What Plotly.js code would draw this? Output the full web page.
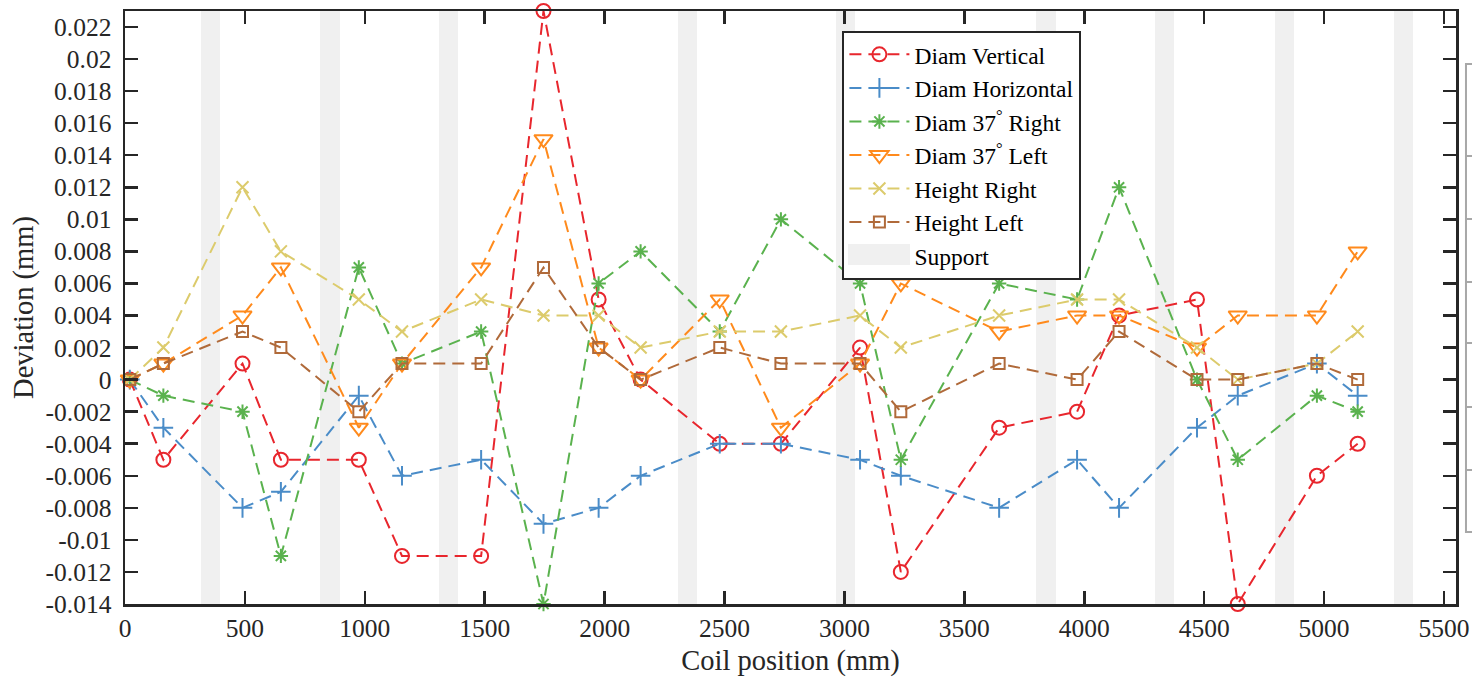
<!DOCTYPE html>
<html><head><meta charset="utf-8">
<script src="https://cdn.plot.ly/plotly-3.0.1.min.js"></script>
<style>html,body{margin:0;padding:0;background:#fff;} #chart{width:1472px;height:678px;}</style>
</head><body><div id="chart"></div>
<script>
// Measurement positions along the coil (mm)
const coilPosition = [20, 160, 490, 650, 975, 1155, 1485, 1745, 1975, 2150, 2480, 2735, 3065, 3235, 3645, 3970, 4145, 4470, 4640, 4970, 5140];

// Deviations (mm)
const diamVertical   = [0, -0.005, 0.001, -0.005, -0.005, -0.011, -0.011, 0.023, 0.005, 0.000, -0.004, -0.004, 0.002, -0.012, -0.003, -0.002, 0.004, 0.005, -0.014, -0.006, -0.004];
const diamHorizontal = [0, -0.003, -0.008, -0.007, -0.001, -0.006, -0.005, -0.009, -0.008, -0.006, -0.004, -0.004, -0.005, -0.006, -0.008, -0.005, -0.008, -0.003, -0.001, 0.001, -0.001];
const diam37Right    = [0, -0.001, -0.002, -0.011, 0.007, 0.001, 0.003, -0.014, 0.006, 0.008, 0.003, 0.010, 0.006, -0.005, 0.006, 0.005, 0.012, 0.000, -0.005, -0.001, -0.002];
const diam37Left     = [0, 0.001, 0.004, 0.007, -0.003, 0.001, 0.007, 0.015, 0.002, 0.000, 0.005, -0.003, 0.001, 0.006, 0.003, 0.004, 0.004, 0.002, 0.004, 0.004, 0.008];
const heightRight    = [0, 0.002, 0.012, 0.008, 0.005, 0.003, 0.005, 0.004, 0.004, 0.002, 0.003, 0.003, 0.004, 0.002, 0.004, 0.005, 0.005, 0.002, 0.000, 0.001, 0.003];
const heightLeft     = [0, 0.001, 0.003, 0.002, -0.002, 0.001, 0.001, 0.007, 0.002, 0.000, 0.002, 0.001, 0.001, -0.002, 0.001, 0.000, 0.003, 0.000, 0.000, 0.001, 0.000];

// Support regions (start position and length, mm)
const supportStart = [315, 815, 1310, 2305, 2965, 3800, 4295, 4795, 5290];
const supportLength = 80;

// Series names
const seriesNames = ['Diam Vertical', 'Diam Horizontal', 'Diam 37<sup>°</sup> Right', 'Diam 37<sup>°</sup> Left', 'Height Right', 'Height Left'];
const supportName = 'Support';

// Axis ticks
const xTickVals = [0, 500, 1000, 1500, 2000, 2500, 3000, 3500, 4000, 4500, 5000, 5500];
const yTickVals = [-0.014, -0.012, -0.01, -0.008, -0.006, -0.004, -0.002, 0, 0.002, 0.004, 0.006, 0.008, 0.01, 0.012, 0.014, 0.016, 0.018, 0.02, 0.022];
const yTickText = ['-0.014', '-0.012', '-0.01', '-0.008', '-0.006', '-0.004', '-0.002', '0', '0.002', '0.004', '0.006', '0.008', '0.01', '0.012', '0.014', '0.016', '0.018', '0.02', '0.022'];

const xRange = [0, 5550];
const yRange = [-0.014, 0.023];

const FONT = '"Liberation Serif", "Times New Roman", serif';
const AX = '#262626';

const styles = [
  {color: '#e8262d', symbol: 'circle-open', size: 14},
  {color: '#4a8cc8', symbol: 'cross-thin-open', size: 14},
  {color: '#5ab24e', symbol: 'asterisk-open', size: 12},
  {color: '#ff8a1c', symbol: 'triangle-down-open', size: 16},
  {color: '#dccb6c', symbol: 'x-thin-open', size: 12},
  {color: '#b06a3a', symbol: 'square-open', size: 11}
];
const seriesData = [diamVertical, diamHorizontal, diam37Right, diam37Left, heightRight, heightLeft];

const traces = seriesData.map((ys, i) => ({
  type: 'scatter', mode: 'lines+markers', name: seriesNames[i],
  x: coilPosition, y: ys,
  line: {color: styles[i].color, width: 2, dash: '12px,7px'},
  marker: {symbol: styles[i].symbol, size: styles[i].size, color: styles[i].color, line: {width: 2, color: styles[i].color}},
  cliponaxis: false
}));

traces.push({
  type: 'bar', name: supportName,
  x: supportStart.map(s => s + supportLength / 2),
  width: supportStart.map(() => supportLength),
  base: supportStart.map(() => yRange[0]),
  y: supportStart.map(() => yRange[1] - yRange[0]),
  marker: {color: '#f0f0f0', line: {width: 0}},
  hoverinfo: 'skip'
});

const axisCommon = {
  showline: true, linecolor: AX, linewidth: 2.5, mirror: 'ticks',
  ticks: 'inside', ticklen: 13, tickwidth: 2.5, tickcolor: AX,
  showgrid: false, zeroline: false,
  tickfont: {family: FONT, size: 25.5, color: AX},
  automargin: false
};

const dividers = [0.7555, 0.6492, 0.543, 0.4401, 0.3322, 0.226];
const shapes = [
  {type: 'rect', xref: 'paper', yref: 'paper', x0: 1.0075, x1: 1.05, y0: 0.1214, y1: 0.9106, line: {color: '#a8a8a8', width: 2}, fillcolor: 'rgba(0,0,0,0)'}
].concat(dividers.map(d => ({type: 'line', xref: 'paper', yref: 'paper', x0: 1.0075, x1: 1.05, y0: d, y1: d, line: {color: '#a8a8a8', width: 2}})));

const layout = {
  width: 1472, height: 678,
  margin: {l: 125, r: 16, t: 11, b: 74},
  paper_bgcolor: '#fff', plot_bgcolor: '#fff',
  font: {family: FONT, color: AX},
  showlegend: true,
  xaxis: Object.assign({}, axisCommon, {
    range: xRange, tickvals: xTickVals,
    title: {text: 'Coil position (mm)', font: {family: FONT, size: 28.5, color: AX}, standoff: 8}
  }),
  yaxis: Object.assign({}, axisCommon, {
    range: yRange, tickvals: yTickVals, ticktext: yTickText, ticklabelstandoff: 6,
    title: {text: 'Deviation (mm)', font: {family: FONT, size: 28.5, color: AX}, standoff: 4}
  }),
  legend: {
    x: 0.539, y: 0.967, xanchor: 'left', yanchor: 'top',
    bgcolor: '#fff', bordercolor: AX, borderwidth: 2,
    font: {family: FONT, size: 23.5, color: '#000'},
    itemwidth: 60, traceorder: 'normal'
  },
  annotations: [{
    xref: 'paper', yref: 'paper', x: 0.5433, y: 0.589, xanchor: 'left', yanchor: 'middle',
    text: ' ', showarrow: false, width: 62, height: 21, bgcolor: '#f0f0f0', borderpad: 0, borderwidth: 0
  }],
  shapes: shapes,
  bargap: 0
};

Plotly.newPlot('chart', traces, layout, {displayModeBar: false, staticPlot: true});
</script>
</body></html>
